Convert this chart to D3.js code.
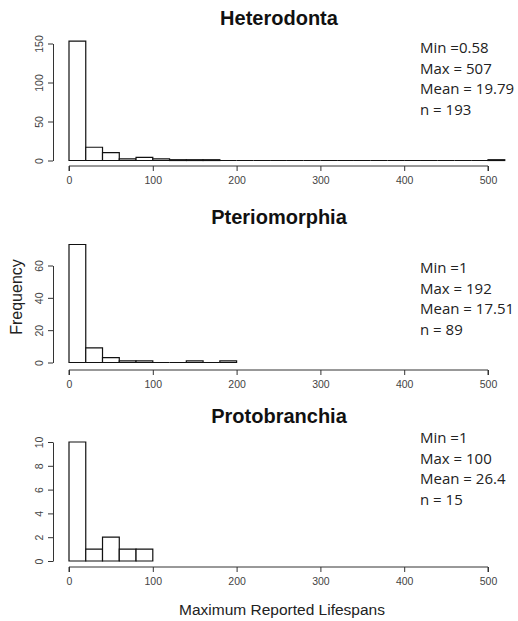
<!DOCTYPE html>
<html>
<head>
<meta charset="utf-8">
<script src="https://cdn.jsdelivr.net/npm/d3@7"></script>
<style>
  body { margin: 0; background: #fff; }
  text { font-family: "Liberation Sans", Arial, sans-serif; }
</style>
</head>
<body>
<div id="chart"></div>
<script>
// bin width of 20 years, starting at 0
const binWidth = 20;
const heteroCounts = [153, 17, 10, 2, 4, 2, 1, 1, 1, 0, 0, 0, 0, 0, 0, 0, 0, 0, 0, 0, 0, 0, 0, 0, 0, 1];
const pterioCounts = [73, 9, 3, 1, 1, 0, 0, 1, 0, 1];
const protoCounts = [10, 1, 2, 1, 1];

const titles = ["Heterodonta", "Pteriomorphia", "Protobranchia"];
const heteroStats = ["Min =0.58", "Max = 507", "Mean = 19.79", "n = 193"];
const pterioStats = ["Min =1", "Max = 192", "Mean = 17.51", "n = 89"];
const protoStats = ["Min =1", "Max = 100", "Mean = 26.4", "n = 15"];
const xTicks = [0, 100, 200, 300, 400, 500];
const heteroYTicks = [0, 50, 100, 150];
const pterioYTicks = [0, 20, 40, 60];
const protoYTicks = [0, 2, 4, 6, 8, 10];

const width = 518, height = 621;
const svg = d3.select("#chart").append("svg")
  .attr("width", width).attr("height", height);

const x = d3.scaleLinear().domain([0, 500]).range([69, 488]);

// layout of each panel (pixel positions)
const panels = [
  { counts: heteroCounts, stats: heteroStats, yTicks: heteroYTicks, y0: 160.5, y1: 43.5, axisY: 166, titleY: 25, statY: 53 },
  { counts: pterioCounts, stats: pterioStats, yTicks: pterioYTicks, y0: 362.5, y1: 265.5, axisY: 370, titleY: 224, statY: 273 },
  { counts: protoCounts, stats: protoStats, yTicks: protoYTicks, y0: 561, y1: 442, axisY: 567, titleY: 423, statY: 443 }
];

panels.forEach((p, i) => {
  const maxTick = d3.max(p.yTicks);
  const y = d3.scaleLinear().domain([0, maxTick]).range([p.y0, p.y1]);
  const g = svg.append("g");

  // title
  g.append("text")
    .attr("x", 279).attr("y", p.titleY)
    .attr("text-anchor", "middle")
    .style("font-weight", "bold")
    .style("font-size", "20px")
    .style("fill", "#111")
    .text(titles[i]);

  // bars as paths so empty bins still show as a flat line, like R does
  const bins = p.counts.map((c, k) => ({ x0: k * binWidth, x1: (k + 1) * binWidth, n: c }));
  g.selectAll("path.bar")
    .data(bins)
    .enter()
    .append("path")
    .attr("class", "bar")
    .attr("d", d => `M${x(d.x0)},${y(0)}V${y(d.n)}H${x(d.x1)}V${y(0)}Z`)
    .attr("fill", "#fff")
    .attr("stroke", "#111")
    .attr("stroke-width", 1.2);

  // x axis
  const xAxis = d3.axisBottom(x).tickValues(xTicks).tickSize(5).tickPadding(6).tickSizeOuter(0);
  const xg = g.append("g").attr("transform", `translate(0,${p.axisY})`).call(xAxis);
  xg.select(".domain").attr("stroke", "#333").attr("d", `M${x(0)},5V0H${x(500)}V5`);
  xg.selectAll(".tick line").attr("stroke", "#333");
  xg.selectAll(".tick text").style("font-size", "10.5px").style("fill", "#444")
    .style("font-family", "'Liberation Sans', Arial, sans-serif");

  // y axis
  const yAxis = d3.axisLeft(y).tickValues(p.yTicks).tickSize(5).tickPadding(0).tickSizeOuter(0);
  const yg = g.append("g").attr("transform", "translate(53,0)").call(yAxis);
  yg.select(".domain").attr("stroke", "#333");
  yg.selectAll(".tick line").attr("stroke", "#333");
  yg.selectAll(".tick text")
    .attr("x", null).attr("dy", null)
    .attr("transform", "translate(-14,0) rotate(-90)")
    .attr("text-anchor", "middle")
    .attr("dominant-baseline", "central")
    .style("font-size", "10.5px").style("fill", "#444")
    .style("font-family", "'Liberation Sans', Arial, sans-serif");

  // summary statistics
  g.selectAll("text.stat")
    .data(p.stats)
    .enter()
    .append("text")
    .attr("class", "stat")
    .attr("x", 420)
    .attr("y", (d, k) => p.statY + k * 20.7)
    .style("font-family", "'Open Sans', sans-serif")
    .style("font-size", "15px")
    .style("fill", "#222")
    .text(d => d);
});

// shared axis labels
svg.append("text")
  .attr("transform", "translate(22,297) rotate(-90)")
  .attr("text-anchor", "middle")
  .style("font-size", "16px")
  .style("fill", "#222")
  .text("Frequency");

svg.append("text")
  .attr("x", 282).attr("y", 615)
  .attr("text-anchor", "middle")
  .style("font-size", "15.5px")
  .style("fill", "#222")
  .text("Maximum Reported Lifespans");
</script>
</body>
</html>
